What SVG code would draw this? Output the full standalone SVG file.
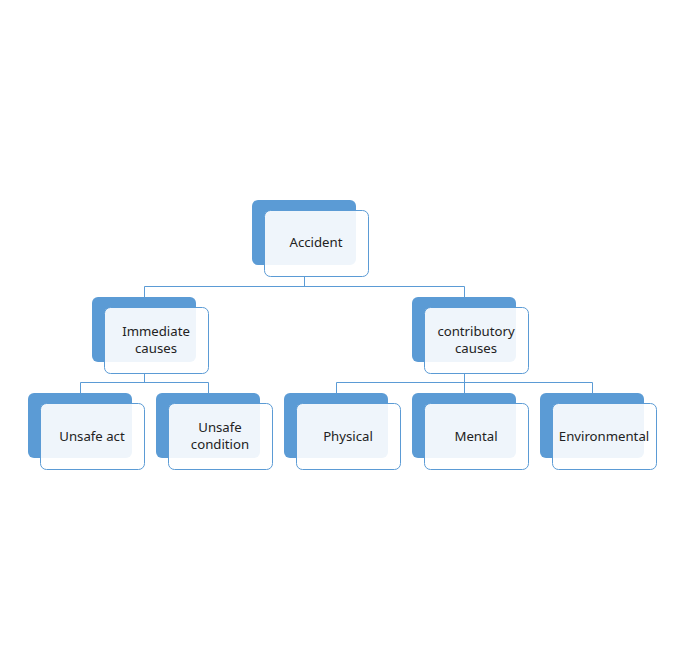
<svg xmlns="http://www.w3.org/2000/svg" width="690" height="668" viewBox="0 0 690 668">
<style>
.back{fill:#5b9bd5;}
.front{fill:#ffffff;fill-opacity:0.9;stroke:#5b9bd5;stroke-width:1;}
.conn{fill:none;stroke:#5b9bd5;stroke-width:1;}
text{font-family:"Noto Sans","DejaVu Sans",sans-serif;font-size:13.2px;fill:#222;text-anchor:middle;}
</style>
<rect width="690" height="668" fill="#ffffff"/>
<g id="connectors">
<path class="conn" d="M304.5 276V286.5M144.5 286.5H464.5M144.5 286.5V297M464.5 286.5V297"/>
<path class="conn" d="M144.5 373V382.5M80.5 382.5H208.5M80.5 382.5V393M208.5 382.5V393"/>
<path class="conn" d="M464.5 373V382.5M336.5 382.5H592.5M336.5 382.5V393M464.5 382.5V393M592.5 382.5V393"/>
</g>
<g id="accident">
<rect class="back" x="252" y="200" width="104" height="65" rx="6"/>
<rect class="front" x="264.5" y="210.5" width="104" height="66" rx="6"/>
<text x="316" y="247">Accident</text>
</g>
<g id="immediate">
<rect class="back" x="92" y="297" width="104" height="65" rx="6"/>
<rect class="front" x="104.5" y="307.5" width="104" height="66" rx="6"/>
<text x="156" y="336">Immediate</text>
<text x="156" y="352.5">causes</text>
</g>
<g id="contributory">
<rect class="back" x="412" y="297" width="104" height="65" rx="6"/>
<rect class="front" x="424.5" y="307.5" width="104" height="66" rx="6"/>
<text x="476" y="336">contributory</text>
<text x="476" y="352.5">causes</text>
</g>
<g id="unsafe-act">
<rect class="back" x="28" y="393" width="104" height="65" rx="6"/>
<rect class="front" x="40.5" y="403.5" width="104" height="66" rx="6"/>
<text x="92" y="441">Unsafe act</text>
</g>
<g id="unsafe-condition">
<rect class="back" x="156" y="393" width="104" height="65" rx="6"/>
<rect class="front" x="168.5" y="403.5" width="104" height="66" rx="6"/>
<text x="220" y="432">Unsafe</text>
<text x="220" y="448.5">condition</text>
</g>
<g id="physical">
<rect class="back" x="284" y="393" width="104" height="65" rx="6"/>
<rect class="front" x="296.5" y="403.5" width="104" height="66" rx="6"/>
<text x="348" y="441">Physical</text>
</g>
<g id="mental">
<rect class="back" x="412" y="393" width="104" height="65" rx="6"/>
<rect class="front" x="424.5" y="403.5" width="104" height="66" rx="6"/>
<text x="476" y="441">Mental</text>
</g>
<g id="environmental">
<rect class="back" x="540" y="393" width="104" height="65" rx="6"/>
<rect class="front" x="552.5" y="403.5" width="104" height="66" rx="6"/>
<text x="604" y="441">Environmental</text>
</g>
</svg>
